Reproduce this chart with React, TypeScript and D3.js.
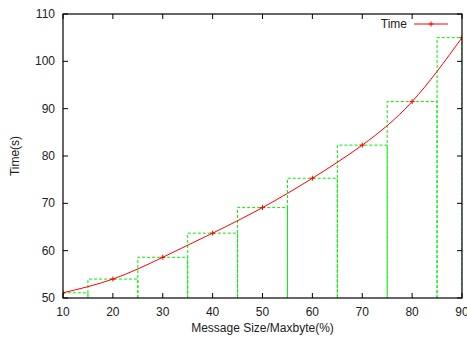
import React from 'react';
import * as d3 from 'd3';

// message size (% of maxbyte) and measured time in seconds
const sizes = [10, 20, 30, 40, 50, 60, 70, 80, 90];
const times = [51.1, 54.0, 58.6, 63.7, 69.1, 75.3, 82.3, 91.5, 105.0];
const xTicks = [10, 20, 30, 40, 50, 60, 70, 80, 90];
const yTicks = [50, 60, 70, 80, 90, 100, 110];

const W = 467;
const H = 339;
const m = { left: 63, right: 5, top: 14, bottom: 41 };

const App = () => {
  const x = d3.scaleLinear().domain([10, 90]).range([m.left, W - m.right]);
  const y = d3.scaleLinear().domain([50, 110]).range([H - m.bottom, m.top]);
  const data = sizes.map((s, i) => ({ s, t: times[i] }));

  const line = d3.line<{ s: number; t: number }>()
    .x(d => x(d.s))
    .y(d => y(d.t))
    .curve(d3.curveNatural);

  const font = "'Liberation Sans', Arial, Helvetica, sans-serif";
  const green = '#00f000';
  const red = '#ff0000';
  const tl = 5; // tick length (inward)

  // boxes centred on each value, width 10, clipped to plot area
  const boxes = data.map(d => {
    const x0 = x(Math.max(10, d.s - 5));
    const x1 = x(Math.min(90, d.s + 5));
    const yt = y(d.t);
    const yb = y(50);
    return `M${x0},${yb}V${yt}H${x1}V${yb}`;
  });

  const plus = (cx: number, cy: number, k: string) => (
    <path key={k} d={`M${cx - 2.5},${cy}H${cx + 2.5}M${cx},${cy - 2.5}V${cy + 2.5}`} stroke={red} strokeWidth={1} />
  );

  return (
    <svg width={W} height={H} style={{ position: 'absolute', left: 0, top: 0, background: '#fff' }}
      fontFamily={font}>
      <defs>
        <clipPath id="plot">
          <rect x={m.left} y={m.top} width={W - m.left - m.right} height={H - m.top - m.bottom} />
        </clipPath>
      </defs>
      <g clipPath="url(#plot)">
        {boxes.map((d, i) => (
          <path key={i} d={d} fill="none" stroke={green} strokeWidth={1} strokeDasharray="3,2" />
        ))}
        <path d={line(data) || ''} fill="none" stroke={red} strokeWidth={1} />
        {data.map((d, i) => plus(x(d.s), y(d.t), 'p' + i))}
      </g>

      {/* frame */}
      <rect x={m.left} y={m.top} width={W - m.left - m.right} height={H - m.top - m.bottom}
        fill="none" stroke="#000" strokeWidth={1.2} />

      {/* x ticks */}
      {xTicks.map(v => (
        <g key={'x' + v}>
          <line x1={x(v)} x2={x(v)} y1={y(50)} y2={y(50) - tl} stroke="#000" />
          <line x1={x(v)} x2={x(v)} y1={y(110)} y2={y(110) + tl} stroke="#000" />
          <text x={x(v)} y={y(50) + 18} textAnchor="middle" fontSize={12} fill="#222">{v}</text>
        </g>
      ))}
      {/* y ticks */}
      {yTicks.map(v => (
        <g key={'y' + v}>
          <line x1={x(10)} x2={x(10) + tl} y1={y(v)} y2={y(v)} stroke="#000" />
          <line x1={x(90)} x2={x(90) - tl} y1={y(v)} y2={y(v)} stroke="#000" />
          <text x={x(10) - 8} y={y(v) + 4} textAnchor="end" fontSize={12} fill="#222">{v}</text>
        </g>
      ))}

      {/* axis titles */}
      <text x={(m.left + W - m.right) / 2} y={H - 7} textAnchor="middle" fontSize={12} fill="#222">
        Message Size/Maxbyte(%)
      </text>
      <text transform={`translate(19,${(m.top + H - m.bottom) / 2}) rotate(-90)`} textAnchor="middle"
        fontSize={12} fill="#222">Time(s)</text>

      {/* legend */}
      <text x={407} y={28} textAnchor="end" fontSize={12} fill="#222">Time</text>
      <line x1={414} x2={448} y1={24} y2={24} stroke={red} />
      {plus(431, 24, 'leg')}
    </svg>
  );
};

export default App;
